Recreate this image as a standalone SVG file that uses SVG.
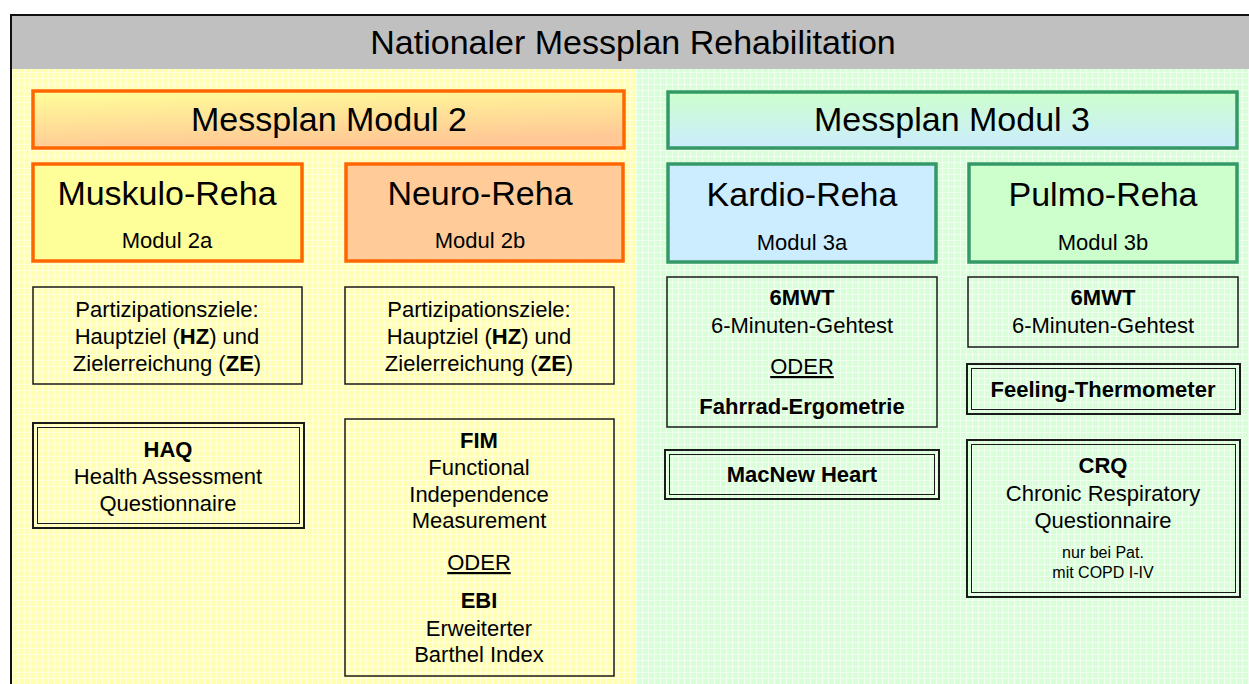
<svg xmlns="http://www.w3.org/2000/svg" width="1249" height="684" viewBox="0 0 1249 684">
<style>
text{font-family:"Liberation Sans",Arial,sans-serif;fill:#000;text-anchor:middle}
.t33{font-size:34px}
.t21{font-size:22px}
.b{font-size:22px}
.bb{font-size:22px;font-weight:bold}
.sm{font-size:16px}
.u{text-decoration:underline}
.orange{stroke:#FF6600;stroke-width:3.5}
.green{stroke:#339966;stroke-width:3.5}
.thin{fill:none;stroke:#1a1a1a;stroke-width:1.5}
.dbl-o{fill:none;stroke:#1a1a1a;stroke-width:2}
.dbl-i{fill:none;stroke:#1a1a1a;stroke-width:1}
</style>
<defs>
<pattern id="py" width="6" height="6" patternUnits="userSpaceOnUse">
<rect width="6" height="6" fill="#FFFFAF"/>
<path d="M0 0.5H6M0.5 0V6" stroke="#FFFFDC" stroke-width="1"/>
</pattern>
<pattern id="pg" width="6" height="6" patternUnits="userSpaceOnUse">
<rect width="6" height="6" fill="#D9FFD9"/>
<path d="M0 0.5H6M0.5 0V6" stroke="#F0FFF0" stroke-width="1"/>
</pattern>
<linearGradient id="g2" x1="0" y1="0" x2="0.3" y2="1">
<stop offset="0" stop-color="#FFFF99"/>
<stop offset="1" stop-color="#FFC896"/>
</linearGradient>
<linearGradient id="g3" x1="0" y1="0" x2="0" y2="1">
<stop offset="0" stop-color="#CCFFCC"/>
<stop offset="1" stop-color="#CCECFF"/>
</linearGradient>
</defs>

<g id="background">
<rect x="11" y="15" width="1238" height="54" fill="#C0C0C0"/>
<rect x="12" y="69" width="624" height="615" fill="url(#py)"/>
<rect x="636" y="69" width="613" height="615" fill="url(#pg)"/>
<path d="M11 684V15H1249" fill="none" stroke="#111" stroke-width="2"/>
<text class="t33" x="633" y="54">Nationaler Messplan Rehabilitation</text>
</g>

<g id="modul2">
<rect class="orange" x="33" y="91" width="591" height="57" fill="url(#g2)"/>
<text class="t33" x="329" y="131">Messplan Modul 2</text>
</g>
<g id="modul3">
<rect class="green" x="668" y="92" width="569" height="56" fill="url(#g3)"/>
<text class="t33" x="952" y="131">Messplan Modul 3</text>
</g>

<g id="muskulo">
<rect class="orange" x="33" y="164" width="269" height="97" fill="#FFFF99"/>
<text class="t33" x="167" y="205">Muskulo-Reha</text>
<text class="t21" x="167" y="248">Modul 2a</text>
</g>
<g id="neuro">
<rect class="orange" x="346" y="164" width="277" height="97" fill="#FFCC99"/>
<text class="t33" x="480" y="205">Neuro-Reha</text>
<text class="t21" x="480" y="248">Modul 2b</text>
</g>
<g id="kardio">
<rect class="green" x="668" y="164" width="268" height="98" fill="#CCECFF"/>
<text class="t33" x="802" y="206">Kardio-Reha</text>
<text class="t21" x="802" y="250">Modul 3a</text>
</g>
<g id="pulmo">
<rect class="green" x="969" y="164" width="268" height="98" fill="#CCFFCC"/>
<text class="t33" x="1103" y="206">Pulmo-Reha</text>
<text class="t21" x="1103" y="250">Modul 3b</text>
</g>

<g id="partizipation2a">
<rect class="thin" x="33" y="287" width="269" height="97"/>
<text class="b" x="167" y="317">Partizipationsziele:</text>
<text class="b" x="167" y="344">Hauptziel (<tspan font-weight="bold">HZ</tspan>) und</text>
<text class="b" x="167" y="371">Zielerreichung (<tspan font-weight="bold">ZE</tspan>)</text>
</g>
<g id="partizipation2b">
<rect class="thin" x="345" y="287" width="269" height="97"/>
<text class="b" x="479" y="317">Partizipationsziele:</text>
<text class="b" x="479" y="344">Hauptziel (<tspan font-weight="bold">HZ</tspan>) und</text>
<text class="b" x="479" y="371">Zielerreichung (<tspan font-weight="bold">ZE</tspan>)</text>
</g>

<g id="haq">
<rect class="dbl-o" x="33" y="423" width="271" height="105"/>
<rect class="dbl-i" x="37.5" y="427.5" width="262" height="96"/>
<text class="bb" x="168" y="457">HAQ</text>
<text class="b" x="168" y="484">Health Assessment</text>
<text class="b" x="168" y="511">Questionnaire</text>
</g>

<g id="fim-ebi">
<rect class="thin" x="345" y="419" width="269" height="257"/>
<text class="bb" x="479" y="448">FIM</text>
<text class="b" x="479" y="475">Functional</text>
<text class="b" x="479" y="502">Independence</text>
<text class="b" x="479" y="528">Measurement</text>
<text class="b u" x="479" y="570">ODER</text>
<text class="bb" x="479" y="608">EBI</text>
<text class="b" x="479" y="636">Erweiterter</text>
<text class="b" x="479" y="662">Barthel Index</text>
</g>

<g id="sixmwt3a">
<rect class="thin" x="667" y="277" width="270" height="150"/>
<text class="bb" x="802" y="305">6MWT</text>
<text class="b" x="802" y="333">6-Minuten-Gehtest</text>
<text class="b u" x="802" y="374">ODER</text>
<text class="bb" x="802" y="414">Fahrrad-Ergometrie</text>
</g>

<g id="macnew">
<rect class="dbl-o" x="665" y="450" width="274" height="49"/>
<rect class="dbl-i" x="669.5" y="454.5" width="265" height="40"/>
<text class="bb" x="802" y="482">MacNew Heart</text>
</g>

<g id="sixmwt3b">
<rect class="thin" x="968" y="277" width="270" height="70"/>
<text class="bb" x="1103" y="305">6MWT</text>
<text class="b" x="1103" y="333">6-Minuten-Gehtest</text>
</g>

<g id="feeling">
<rect class="dbl-o" x="967" y="364" width="273" height="50"/>
<rect class="dbl-i" x="971.5" y="368.5" width="264" height="41"/>
<text class="bb" x="1103" y="397">Feeling-Thermometer</text>
</g>

<g id="crq">
<rect class="dbl-o" x="967" y="440" width="273" height="157"/>
<rect class="dbl-i" x="971.5" y="444.5" width="264" height="148"/>
<text class="bb" x="1103" y="473">CRQ</text>
<text class="b" x="1103" y="501">Chronic Respiratory</text>
<text class="b" x="1103" y="528">Questionnaire</text>
<text class="sm" x="1103" y="558">nur bei Pat.</text>
<text class="sm" x="1103" y="578">mit COPD I-IV</text>
</g>

<g id="connectors"></g>
</svg>
